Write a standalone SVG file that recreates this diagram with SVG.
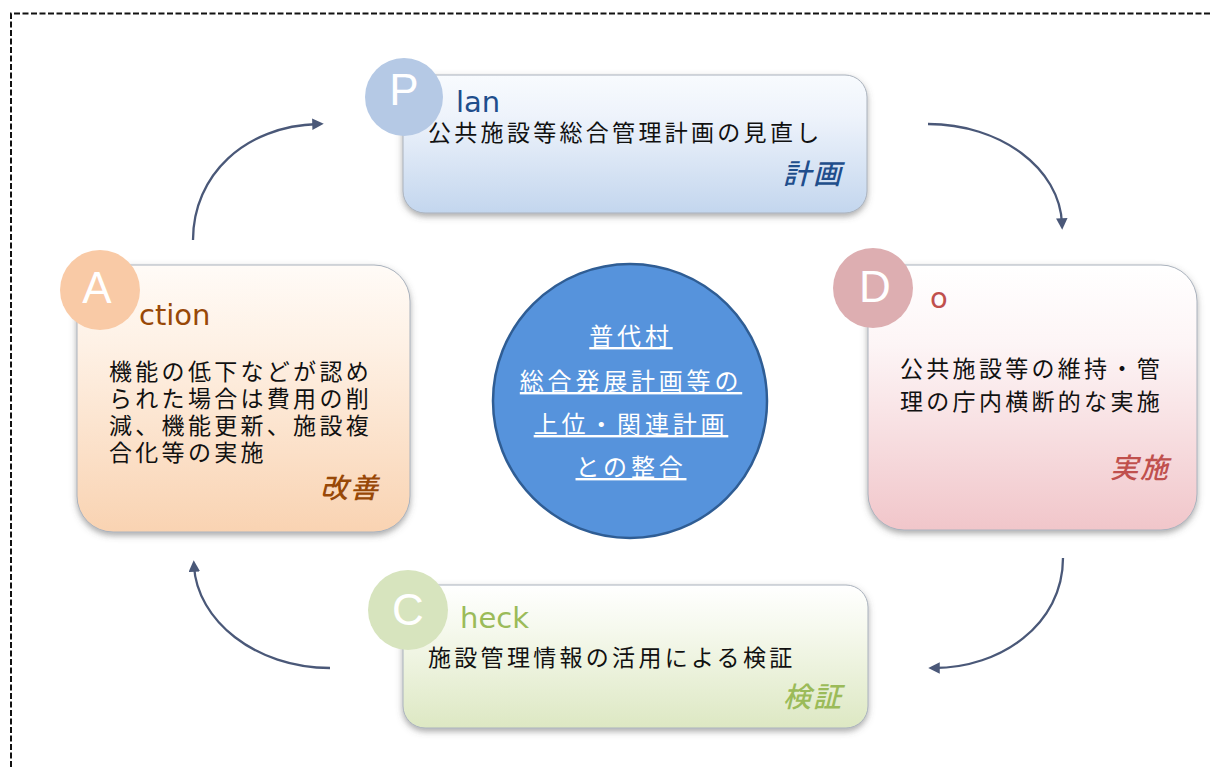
<svg xmlns="http://www.w3.org/2000/svg" width="1210" height="767" viewBox="0 0 1210 767">
<style>
.jp{font-family:"Noto Sans CJK JP","Noto Sans CJK SC",sans-serif;font-size:23px;letter-spacing:3.3px;fill:#111}
.lat{font-family:"DejaVu Sans",sans-serif;font-size:29px}
.big{font-family:"Liberation Sans",sans-serif;font-size:44px;fill:#fff;text-anchor:middle}
.it{font-family:"Noto Sans CJK JP",sans-serif;font-size:28px;font-weight:500;font-style:italic;letter-spacing:2px;text-anchor:end}
.ctr{font-family:"Noto Sans CJK JP",sans-serif;font-size:24px;letter-spacing:3.8px;fill:#fff;text-anchor:middle;text-decoration:underline}
.arr{fill:none;stroke:#4a5878;stroke-width:2.3;marker-end:url(#ah)}
.box{stroke:#aab2bd;stroke-width:1;filter:url(#sh)}
</style>
<defs>
<marker id="ah" viewBox="0 0 10 10" refX="5" refY="5" markerWidth="5" markerHeight="5" orient="auto" markerUnits="strokeWidth">
<path d="M0,0 L10,5 L0,10 Z" fill="#4a5878"/>
</marker>
<filter id="sh" x="-10%" y="-10%" width="120%" height="130%">
<feDropShadow dx="0" dy="3" stdDeviation="3" flood-color="#555" flood-opacity="0.5"/>
</filter>
<linearGradient id="gP" x1="0" y1="0" x2="0" y2="1"><stop offset="0" stop-color="#f8fbfe"/><stop offset="0.3" stop-color="#eef3fb"/><stop offset="1" stop-color="#c3d6ee"/></linearGradient>
<linearGradient id="gD" x1="0" y1="0" x2="0" y2="1"><stop offset="0" stop-color="#ffffff"/><stop offset="0.3" stop-color="#fdf5f6"/><stop offset="1" stop-color="#f1c6ca"/></linearGradient>
<linearGradient id="gA" x1="0" y1="0" x2="0" y2="1"><stop offset="0" stop-color="#fffbf7"/><stop offset="0.3" stop-color="#fef1e5"/><stop offset="1" stop-color="#f9d3b2"/></linearGradient>
<linearGradient id="gC" x1="0" y1="0" x2="0" y2="1"><stop offset="0" stop-color="#ffffff"/><stop offset="0.3" stop-color="#f6f9ee"/><stop offset="1" stop-color="#dde8c3"/></linearGradient>
</defs>
<rect width="1210" height="767" fill="#fff"/>
<path d="M11,767 V13.5 H1210" fill="none" stroke="#111" stroke-width="2" stroke-dasharray="6 2.5"/>

<g id="connectors">
<path class="arr" d="M193,240 C193,175 245,126 318,124"/>
<path class="arr" d="M928,124 C1000,124 1060,168 1062,224"/>
<path class="arr" d="M1063,558 C1063,625 1000,668 934,668"/>
<path class="arr" d="M330,668 C255,668 197,620 194,566"/>
</g>

<g id="plan">
<rect class="box" x="403" y="75" width="464" height="138" rx="22" fill="url(#gP)"/>
<circle cx="404" cy="97" r="39" fill="#b5c9e5"/>
<text class="big" x="404" y="105">P</text>
<text class="lat" x="456" y="112" fill="#1f4e8c">lan</text>
<text class="jp" x="428" y="141">公共施設等総合管理計画の見直し</text>
<text class="it" x="843" y="184" fill="#1f4e8c">計画</text>
</g>

<g id="do">
<rect class="box" x="868" y="265" width="329" height="265" rx="36" fill="url(#gD)"/>
<circle cx="873" cy="288" r="40" fill="#ddaeb1"/>
<text class="big" x="875" y="302">D</text>
<text class="lat" x="930" y="308" fill="#c0504d">o</text>
<text class="jp" x="900" y="377">公共施設等の維持・管</text>
<text class="jp" x="900" y="410">理の庁内横断的な実施</text>
<text class="it" x="1170" y="478" fill="#c0504d">実施</text>
</g>

<g id="action">
<rect class="box" x="77" y="265" width="333" height="267" rx="36" fill="url(#gA)"/>
<circle cx="100" cy="290" r="40" fill="#f9caa6"/>
<text class="big" x="97" y="303">A</text>
<text class="lat" x="139" y="325" fill="#984807">ction</text>
<text class="jp" x="109" y="380">機能の低下などが認め</text>
<text class="jp" x="109" y="407">られた場合は費用の削</text>
<text class="jp" x="109" y="434">減、機能更新、施設複</text>
<text class="jp" x="109" y="461">合化等の実施</text>
<text class="it" x="380" y="498" fill="#984807">改善</text>
</g>

<g id="check">
<rect class="box" x="403" y="585" width="465" height="143" rx="22" fill="url(#gC)"/>
<circle cx="408" cy="610" r="40" fill="#d7e4be"/>
<text class="big" x="408" y="625">C</text>
<text class="lat" x="460" y="628" fill="#9bbb59">heck</text>
<text class="jp" x="428" y="666">施設管理情報の活用による検証</text>
<text class="it" x="843" y="707" fill="#9bbb59">検証</text>
</g>

<g id="center">
<circle cx="630" cy="401" r="137" fill="#5693dc" stroke="#2f5d94" stroke-width="2.5"/>
<text class="ctr" x="631" y="345">普代村</text>
<text class="ctr" x="631" y="390">総合発展計画等の</text>
<text class="ctr" x="631" y="433">上位・関連計画</text>
<text class="ctr" x="631" y="476">との整合</text>
</g>
</svg>
